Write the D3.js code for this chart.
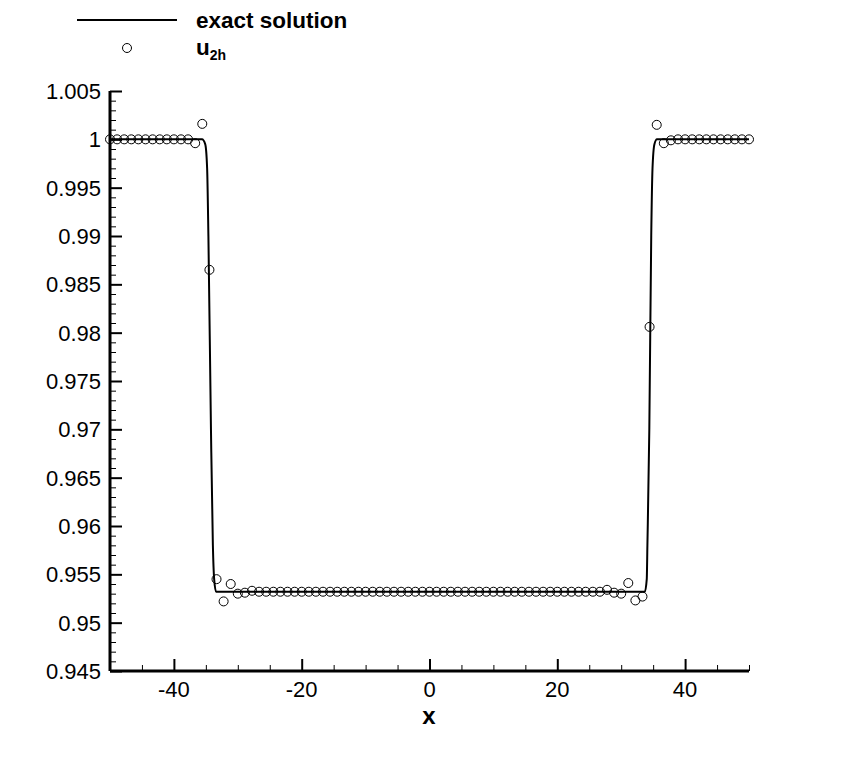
<!DOCTYPE html>
<html>
<head>
<meta charset="utf-8">
<script src="https://cdn.jsdelivr.net/npm/d3@7"></script>
<style>
  body { margin: 0; background: #fff; }
  text { font-family: "Liberation Sans", Arial, Helvetica, sans-serif; fill: #000; }
</style>
</head>
<body>
<div id="chart"></div>
<script>
(function(){
  const width = 851;
  const height = 757;

  // mesh points of the numerical solution u_2h
  const meshX = [
    -50, -48.89, -47.78, -46.67, -45.56, -44.44, -43.33, -42.22, -41.11, -40,
    -38.89, -37.78, -36.67, -35.56, -34.44, -33.33, -32.22, -31.11, -30, -28.89,
    -27.78, -26.67, -25.56, -24.44, -23.33, -22.22, -21.11, -20, -18.89, -17.78,
    -16.67, -15.56, -14.44, -13.33, -12.22, -11.11, -10, -8.89, -7.78, -6.67,
    -5.56, -4.44, -3.33, -2.22, -1.11, 0, 1.11, 2.22, 3.33, 4.44,
    5.56, 6.67, 7.78, 8.89, 10, 11.11, 12.22, 13.33, 14.44, 15.56,
    16.67, 17.78, 18.89, 20, 21.11, 22.22, 23.33, 24.44, 25.56, 26.67,
    27.78, 28.89, 30, 31.11, 32.22, 33.33, 34.44, 35.56, 36.67, 37.78,
    38.89, 40, 41.11, 42.22, 43.33, 44.44, 45.56, 46.67, 47.78, 48.89, 50
  ];
  const u2h = [
    1, 1, 1, 1, 1, 1, 1, 1, 1, 1,
    1, 1, 0.9996, 1.0016, 0.9865, 0.9545, 0.9522, 0.9540, 0.9530, 0.9531,
    0.9533, 0.9532, 0.9532, 0.9532, 0.9532, 0.9532, 0.9532, 0.9532, 0.9532, 0.9532,
    0.9532, 0.9532, 0.9532, 0.9532, 0.9532, 0.9532, 0.9532, 0.9532, 0.9532, 0.9532,
    0.9532, 0.9532, 0.9532, 0.9532, 0.9532, 0.9532, 0.9532, 0.9532, 0.9532, 0.9532,
    0.9532, 0.9532, 0.9532, 0.9532, 0.9532, 0.9532, 0.9532, 0.9532, 0.9532, 0.9532,
    0.9532, 0.9532, 0.9532, 0.9532, 0.9532, 0.9532, 0.9532, 0.9532, 0.9532, 0.9532,
    0.9534, 0.9531, 0.9530, 0.9541, 0.9523, 0.9527, 0.9806, 1.0015, 0.9996, 0.9999,
    1, 1, 1, 1, 1, 1, 1, 1, 1, 1, 1
  ];

  // exact solution
  const exactX = [-50, -35.6, -35.1, -34.8, -34.6, -34.2, -33.9, -33.7, -33.4,
                  33.7, 34.0, 34.1, 34.4, 34.7, 34.9, 35.2, 35.6, 50];
  const exactU = [1, 1, 0.9995, 0.997, 0.99, 0.97, 0.958, 0.9545, 0.9532,
                  0.9532, 0.9545, 0.958, 0.97, 0.99, 0.997, 0.9995, 1, 1];

  const xMajor = [-40, -20, 0, 20, 40];
  const xMinor = [-45, -35, -30, -25, -15, -10, -5, 5, 10, 15, 25, 30, 35, 45, 50];
  const yMajor = [0.945, 0.95, 0.955, 0.96, 0.965, 0.97, 0.975, 0.98, 0.985, 0.99, 0.995, 1, 1.005];

  const svg = d3.select("#chart")
    .append("svg")
    .attr("width", width)
    .attr("height", height);

  const x = d3.scaleLinear().domain([-50, 50]).range([110, 749]);
  const y = d3.scaleLinear().domain([0.945, 1.005]).range([671, 91]);

  // minor y ticks every 0.001
  const yMinor = d3.range(946, 1005).filter(v => v % 5 !== 0).map(v => v / 1000);

  // x axis (ticks pointing inward)
  const gx = svg.append("g").attr("transform", "translate(0,671)");
  gx.call(d3.axisTop(x).tickValues(xMinor).tickSize(6).tickFormat(""));
  gx.select(".domain").remove();
  gx.selectAll("line").attr("stroke-width", 1);
  const gx2 = svg.append("g").attr("transform", "translate(0,671)");
  gx2.call(d3.axisTop(x).tickValues(xMajor).tickSize(12).tickFormat(""));
  gx2.select(".domain").remove();
  gx2.selectAll("line").attr("stroke-width", 2);
  svg.append("g").selectAll("text")
    .data(xMajor).join("text")
    .attr("x", d => x(d))
    .attr("y", 697)
    .attr("text-anchor", "middle")
    .style("font-size", "22px")
    .text(d => d);

  // y axis
  const gy = svg.append("g").attr("transform", "translate(110,0)");
  gy.call(d3.axisRight(y).tickValues(yMinor).tickSize(6).tickFormat(""));
  gy.select(".domain").remove();
  gy.selectAll("line").attr("stroke-width", 1);
  const gy2 = svg.append("g").attr("transform", "translate(110,0)");
  gy2.call(d3.axisRight(y).tickValues(yMajor).tickSize(12).tickFormat(""));
  gy2.select(".domain").remove();
  gy2.selectAll("line").attr("stroke-width", 2);
  svg.append("g").selectAll("text")
    .data(yMajor).join("text")
    .attr("x", 101)
    .attr("y", d => y(d) + 8)
    .attr("text-anchor", "end")
    .style("font-size", "22px")
    .text(d => d3.format("")(+d.toFixed(3)));

  // axis lines
  svg.append("line").attr("x1", 110).attr("x2", 749).attr("y1", 671).attr("y2", 671)
    .attr("stroke", "#000").attr("stroke-width", 3);
  svg.append("line").attr("x1", 110).attr("x2", 110).attr("y1", 91).attr("y2", 671)
    .attr("stroke", "#000").attr("stroke-width", 3);

  svg.append("text")
    .attr("x", 429)
    .attr("y", 724)
    .attr("text-anchor", "middle")
    .style("font-size", "24px")
    .style("font-weight", "bold")
    .text("x");

  // exact solution line
  const line = d3.line()
    .x(i => x(exactX[i]))
    .y(i => y(exactU[i]))
    .curve(d3.curveMonotoneX);
  svg.append("path")
    .attr("d", line(d3.range(exactX.length)))
    .attr("fill", "none")
    .attr("stroke", "#000")
    .attr("stroke-width", 2);

  // numerical solution circles
  svg.append("g").selectAll("circle")
    .data(meshX).join("circle")
    .attr("cx", d => x(d))
    .attr("cy", (d, i) => y(u2h[i]))
    .attr("r", 4.5)
    .attr("fill", "none")
    .attr("stroke", "#000")
    .attr("stroke-width", 1);

  // legend
  svg.append("line").attr("x1", 77).attr("x2", 177).attr("y1", 20).attr("y2", 20)
    .attr("stroke", "#000").attr("stroke-width", 2);
  svg.append("text").attr("x", 196).attr("y", 28)
    .style("font-size", "22.5px").style("font-weight", "bold")
    .text("exact solution");
  svg.append("circle").attr("cx", 127).attr("cy", 48).attr("r", 4.5)
    .attr("fill", "none").attr("stroke", "#000");
  const lt = svg.append("text").attr("x", 196).attr("y", 55)
    .style("font-size", "22.5px").style("font-weight", "bold");
  lt.append("tspan").text("u");
  lt.append("tspan").attr("dy", 5).style("font-size", "14px").text("2h");
})();
</script>
</body>
</html>
